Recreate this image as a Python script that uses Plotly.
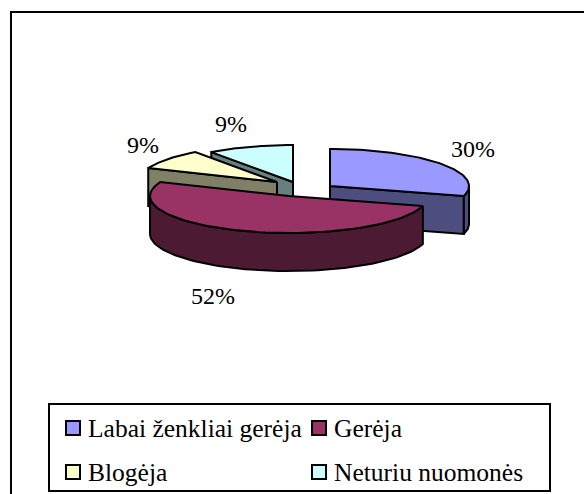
import numpy as np
import plotly.graph_objects as go

categories = ["Labai ženkliai gerėja", "Gerėja", "Blogėja", "Neturiu nuomonės"]
values = [30, 52, 9, 9]
percent_labels = ["30%", "52%", "9%", "9%"]

top_colors = ["#9999FF", "#993366", "#FFFFCC", "#CCFFFF"]
side_colors = ["#4D4D80", "#4D1A33", "#808066", "#668080"]
# slice apex in page pixels (exploded pie layout)
apexes = [(330, 186), (289, 196), (277, 182), (293, 182)]
label_pos = [(473, 149), (213, 296), (143, 145), (231, 124)]
legend_pos = [(73, 428), (319, 428), (73, 472), (319, 472)]
RX, RY, DEPTH = 139, 37, 38
WARP = np.radians(4)  # angular distortion of the tilted view
FONT = "Liberation Serif"

fig = go.Figure()

# angular extent of each slice, clockwise from 12 o'clock
ends = np.cumsum(values) / sum(values) * 2 * np.pi
starts = np.concatenate([[0], ends[:-1]])


def screen_point(cx, cy, t):
    s = t + WARP * np.sin(2 * t)
    return cx + RX * np.sin(s), cy - RY * np.cos(s)


def rim(cx, cy, a0, a1):
    return screen_point(cx, cy, np.linspace(a0, a1, 80))


def poly(xs, ys, color):
    fig.add_trace(go.Scatter(
        x=list(xs), y=list(ys), mode="lines", fill="toself", fillcolor=color,
        line=dict(color="black", width=2), hoverinfo="skip", showlegend=False))


def draw_slice(i):
    cx, cy = apexes[i]
    a0, a1 = starts[i], ends[i]
    # a cut face is drawn only when it turns towards the viewer
    for a, visible in ((a0, np.sin(a0) < -1e-9), (a1, np.sin(a1) > 1e-9)):
        if visible:
            ex, ey = screen_point(cx, cy, a)
            poly([cx, ex, ex, cx, cx], [cy, ey, ey + DEPTH, cy + DEPTH, cy], side_colors[i])
    # outer wall (the part that faces the viewer)
    lo, hi = max(a0, np.pi / 2), min(a1, 3 * np.pi / 2)
    if lo < hi:
        x, y = rim(cx, cy, lo, hi)
        poly(np.r_[x, x[::-1], x[0]], np.r_[y, y[::-1] + DEPTH, y[0]], side_colors[i])
    # top face
    x, y = rim(cx, cy, a0, a1)
    poly(np.r_[cx, x, cx], np.r_[cy, y, cy], top_colors[i])


for i in (3, 2, 0, 1):
    draw_slice(i)

for (x, y), text in zip(label_pos, percent_labels):
    fig.add_annotation(x=x, y=y, text=text, showarrow=False,
                       font=dict(family=FONT, size=24, color="black"))

# legend swatches and labels
for (x, y), name, color in zip(legend_pos, categories, top_colors):
    fig.add_trace(go.Scatter(
        x=[x], y=[y], mode="markers", hoverinfo="skip", showlegend=False,
        marker=dict(symbol="square", size=14, color=color, line=dict(color="black", width=2))))
    fig.add_annotation(x=x + 13, y=y, text=name, showarrow=False, xanchor="left",
                       font=dict(family=FONT, size=25.5, color="black"))

# the page body margin is removed below, so figure pixels are page pixels
fig.update_layout(
    width=584, height=494, margin=dict(l=0, r=0, t=0, b=0),
    autosize=False, paper_bgcolor="white", plot_bgcolor="white", showlegend=False,
    xaxis=dict(range=[0, 584], visible=False, fixedrange=True),
    yaxis=dict(range=[494, 0], visible=False, fixedrange=True),
    shapes=[
        dict(type="rect", x0=11, y0=12, x1=600, y1=510, line=dict(color="black", width=2), layer="below"),
        dict(type="rect", x0=49, y0=404, x1=550, y1=491, line=dict(color="black", width=2),
             fillcolor="white", layer="below"),
    ],
)
fig.write_html("out.html", default_width="584px", default_height="494px",
               config={"displayModeBar": False},
               post_script="document.body.style.margin='0';document.body.style.overflow='hidden';")
